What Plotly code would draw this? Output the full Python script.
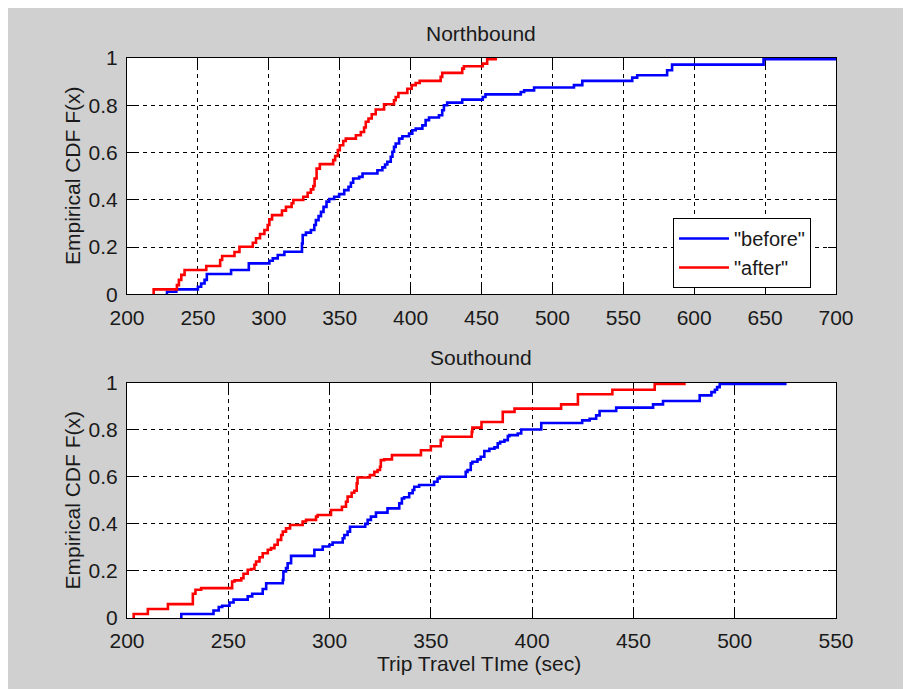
import plotly.graph_objects as go

# ---------------- data ----------------
# Northbound, "before" (blue): step locations (sec) and CDF level after each step
nb_before_x = [228.2, 228.2, 234.8, 250.0, 252.3, 254.7, 256.3, 273.4, 285.9, 300.4, 302.8,
               306.3, 311.0, 323.4, 323.9, 326.2, 329.7, 332.1, 333.2, 335.1, 336.8, 338.6,
               340.7, 342.6, 346.1, 349.6, 353.2, 356.2, 357.9, 359.5, 363.7, 366.1, 376.6,
               380.1, 382.0, 383.6, 386.0, 387.2, 388.3, 389.5, 391.9, 394.2, 398.9, 401.2,
               403.6, 408.3, 410.6, 413.0, 420.0, 422.3, 423.5, 425.8, 436.4, 450.9, 452.8,
               477.7, 480.1, 487.1, 515.2, 521.1, 556.3, 559.8, 580.9, 584.4, 648.9, 700.0]
nb_before_y = [0.0, 0.011, 0.021, 0.032, 0.046, 0.061, 0.086, 0.103, 0.131, 0.142, 0.152,
               0.166, 0.180, 0.215, 0.251, 0.261, 0.272, 0.293, 0.314, 0.331, 0.349, 0.370,
               0.392, 0.403, 0.413, 0.424, 0.441, 0.455, 0.472, 0.490, 0.497, 0.511, 0.525,
               0.537, 0.549, 0.561, 0.582, 0.603, 0.624, 0.638, 0.659, 0.669, 0.680, 0.694,
               0.701, 0.715, 0.737, 0.748, 0.758, 0.779, 0.800, 0.811, 0.824, 0.835, 0.846,
               0.856, 0.863, 0.875, 0.885, 0.903, 0.917, 0.927, 0.948, 0.972, 0.995, 0.995]

# Northbound, "after" (red)
nb_after_x = [218.8, 218.8, 235.2, 236.6, 238.3, 240.6, 255.9, 265.7, 267.1, 275.8, 279.3,
              288.7, 291.0, 293.8, 296.9, 299.2, 300.4, 302.3, 309.3, 312.1, 316.1, 317.3,
              324.3, 327.4, 329.7, 331.4, 332.3, 333.7, 336.0, 345.4, 346.8, 348.7, 350.1,
              352.5, 354.3, 361.4, 364.9, 367.2, 368.4, 370.3, 372.6, 375.4, 381.3, 388.3,
              389.5, 391.4, 397.7, 400.8, 403.6, 406.4, 421.2, 422.3, 436.4, 437.6, 450.9,
              454.0, 461.0]
nb_after_y = [0.0, 0.021, 0.039, 0.061, 0.082, 0.103, 0.120, 0.145, 0.162, 0.179, 0.201,
              0.218, 0.237, 0.255, 0.272, 0.293, 0.317, 0.335, 0.354, 0.370, 0.385, 0.399,
              0.413, 0.430, 0.444, 0.458, 0.490, 0.532, 0.551, 0.568, 0.585, 0.610, 0.631,
              0.649, 0.659, 0.673, 0.687, 0.706, 0.730, 0.744, 0.762, 0.782, 0.804, 0.821,
              0.835, 0.852, 0.870, 0.885, 0.894, 0.903, 0.920, 0.937, 0.955, 0.965, 0.976,
              0.995, 0.995]

# Southbound, "before" (blue)
sb_before_x = [226.8, 226.8, 242.7, 245.3, 247.0, 250.6, 252.6, 259.6, 261.8, 267.0, 268.7,
               276.9, 277.2, 278.5, 279.3, 281.0, 292.5, 296.6, 299.9, 301.5, 306.5, 307.3,
               308.9, 310.1, 317.6, 318.8, 320.4, 322.9, 328.6, 334.4, 335.7, 336.8, 339.3,
               341.0, 341.8, 344.2, 351.6, 353.3, 354.4, 367.2, 368.1, 369.7, 370.5, 373.0,
               374.6, 376.4, 378.9, 381.4, 383.0, 384.2, 386.3, 388.0, 388.8, 392.9, 394.6,
               404.5, 424.7, 428.4, 431.6, 433.3, 441.5, 459.7, 464.6, 482.7, 488.5, 490.2,
               491.3, 492.6, 525.6]
sb_before_y = [0.0, 0.017, 0.032, 0.047, 0.052, 0.066, 0.078, 0.092, 0.103, 0.123, 0.148,
               0.162, 0.198, 0.212, 0.233, 0.264, 0.290, 0.304, 0.311, 0.321, 0.339, 0.353,
               0.367, 0.388, 0.400, 0.417, 0.431, 0.448, 0.466, 0.487, 0.508, 0.513, 0.530,
               0.544, 0.558, 0.565, 0.579, 0.593, 0.600, 0.621, 0.629, 0.657, 0.664, 0.674,
               0.685, 0.710, 0.719, 0.725, 0.742, 0.749, 0.756, 0.773, 0.777, 0.784, 0.801,
               0.829, 0.840, 0.847, 0.861, 0.880, 0.894, 0.908, 0.922, 0.946, 0.960, 0.970,
               0.981, 0.995, 0.995]

# Southbound, "after" (red)
sb_after_x = [203.3, 203.3, 210.3, 220.2, 232.5, 233.8, 236.6, 251.9, 253.1, 256.4, 257.5,
              259.6, 261.3, 262.9, 263.7, 265.4, 267.0, 269.5, 271.1, 272.8, 274.4, 276.1,
              276.9, 278.5, 280.5, 286.7, 288.4, 293.3, 294.1, 300.7, 306.1, 308.1, 308.9,
              310.9, 312.2, 313.4, 313.8, 319.9, 322.1, 323.7, 324.9, 325.3, 327.0, 330.8,
              345.1, 350.0, 354.9, 355.7, 370.2, 370.5, 375.0, 385.5, 391.3, 414.3, 422.6,
              439.6, 460.5, 475.8]
sb_after_y = [0.0, 0.017, 0.038, 0.059, 0.103, 0.120, 0.127, 0.155, 0.160, 0.169, 0.188,
              0.205, 0.208, 0.226, 0.240, 0.258, 0.275, 0.290, 0.297, 0.311, 0.332, 0.353,
              0.367, 0.381, 0.395, 0.410, 0.417, 0.431, 0.438, 0.459, 0.473, 0.494, 0.516,
              0.532, 0.541, 0.572, 0.597, 0.607, 0.621, 0.629, 0.643, 0.671, 0.674, 0.692,
              0.713, 0.730, 0.756, 0.770, 0.791, 0.809, 0.833, 0.876, 0.890, 0.908, 0.951,
              0.970, 0.995, 0.995]

series_names = ['"before"', '"after"']
nb_xticks = [200, 250, 300, 350, 400, 450, 500, 550, 600, 650, 700]
sb_xticks = [200, 250, 300, 350, 400, 450, 500, 550]
y_ticks = [0, 0.2, 0.4, 0.6, 0.8, 1]
y_ticklabels = ["0", "0.2", "0.4", "0.6", "0.8", "1"]

# ---------------- figure ----------------
BLUE = "#0000ff"
RED = "#ff0000"
GRAY = "#d0d0d0"
FONT = "Liberation Sans"
TXT = "#1a1a1a"
FS = 21

fig = go.Figure()
fig.add_trace(go.Scatter(x=nb_before_x, y=nb_before_y, mode="lines", line_shape="hv",
                         line=dict(color=BLUE, width=2.6), name=series_names[0],
                         xaxis="x", yaxis="y"))
fig.add_trace(go.Scatter(x=nb_after_x, y=nb_after_y, mode="lines", line_shape="hv",
                         line=dict(color=RED, width=2.6), name=series_names[1],
                         xaxis="x", yaxis="y"))
fig.add_trace(go.Scatter(x=sb_before_x, y=sb_before_y, mode="lines", line_shape="hv",
                         line=dict(color=BLUE, width=2.6), name=series_names[0],
                         showlegend=False, xaxis="x2", yaxis="y2"))
fig.add_trace(go.Scatter(x=sb_after_x, y=sb_after_y, mode="lines", line_shape="hv",
                         line=dict(color=RED, width=2.6), name=series_names[1],
                         showlegend=False, xaxis="x2", yaxis="y2"))

axis_common = dict(
    showline=True, linecolor="black", linewidth=1, mirror="ticks",
    ticks="inside", ticklen=8, tickcolor="black", tickwidth=1,
    showgrid=True, gridcolor="black", gridwidth=1, griddash="4px,4px",
    zeroline=False, tickfont=dict(family=FONT, size=FS, color=TXT),
    ticklabelstandoff=4, layer="below traces",
)

# page has an 8 px body margin, so the figure is 8 px smaller than the window
OFF = 8
W, H = 911 - OFF, 689 - OFF
L, T = 127 - OFF, 58 - OFF
R, B = 911 - 836, 689 - 618
PW, PH = W - L - R, H - T - B

def px_x(px):  # px measured in the window picture
    return (px - OFF - L) / PW

def px_y(py):
    return (H - B - (py - OFF)) / PH

fig.update_layout(
    width=W, height=H,
    margin=dict(l=L, r=R, t=T, b=B, autoexpand=False),
    paper_bgcolor=GRAY, plot_bgcolor="white",
    font=dict(family=FONT, size=FS, color=TXT),
    xaxis=dict(domain=[0, 1], anchor="y", range=[200, 700], tickvals=nb_xticks,
               ticktext=[str(v) for v in nb_xticks], **axis_common),
    yaxis=dict(domain=[px_y(294.3), 1], anchor="x", range=[0, 1], tickvals=y_ticks,
               ticktext=y_ticklabels, **axis_common),
    xaxis2=dict(domain=[0, 1], anchor="y2", range=[200, 550], tickvals=sb_xticks,
                ticktext=[str(v) for v in sb_xticks], **axis_common),
    yaxis2=dict(domain=[0, px_y(382.7)], anchor="x2", range=[0, 1], tickvals=y_ticks,
                ticktext=y_ticklabels, **axis_common),
    showlegend=True,
    legend=dict(x=px_x(673), y=px_y(218), xanchor="left", yanchor="top",
                bgcolor="white", bordercolor="black", borderwidth=1, itemwidth=50,
                font=dict(family=FONT, size=20, color=TXT), tracegroupgap=0),
    annotations=[
        dict(text="Northbound", x=px_x(481), y=px_y(34), xref="paper", yref="paper",
             showarrow=False, xanchor="center", yanchor="middle",
             font=dict(family=FONT, size=FS, color=TXT)),
        dict(text="Southound", x=px_x(481), y=px_y(357), xref="paper", yref="paper",
             showarrow=False, xanchor="center", yanchor="middle",
             font=dict(family=FONT, size=FS, color=TXT)),
        dict(text="Trip Travel TIme (sec)", x=px_x(479), y=px_y(663), xref="paper",
             yref="paper", showarrow=False, xanchor="center", yanchor="middle",
             font=dict(family=FONT, size=FS, color=TXT)),
        dict(text="Empirical CDF F(x)", x=px_x(72), y=px_y(176), xref="paper",
             yref="paper", showarrow=False, xanchor="center", yanchor="middle",
             textangle=-90, font=dict(family=FONT, size=FS, color=TXT)),
        dict(text="Empirical CDF F(x)", x=px_x(72), y=px_y(500.5), xref="paper",
             yref="paper", showarrow=False, xanchor="center", yanchor="middle",
             textangle=-90, font=dict(family=FONT, size=FS, color=TXT)),
    ],
)

fig.write_html("out.html")
